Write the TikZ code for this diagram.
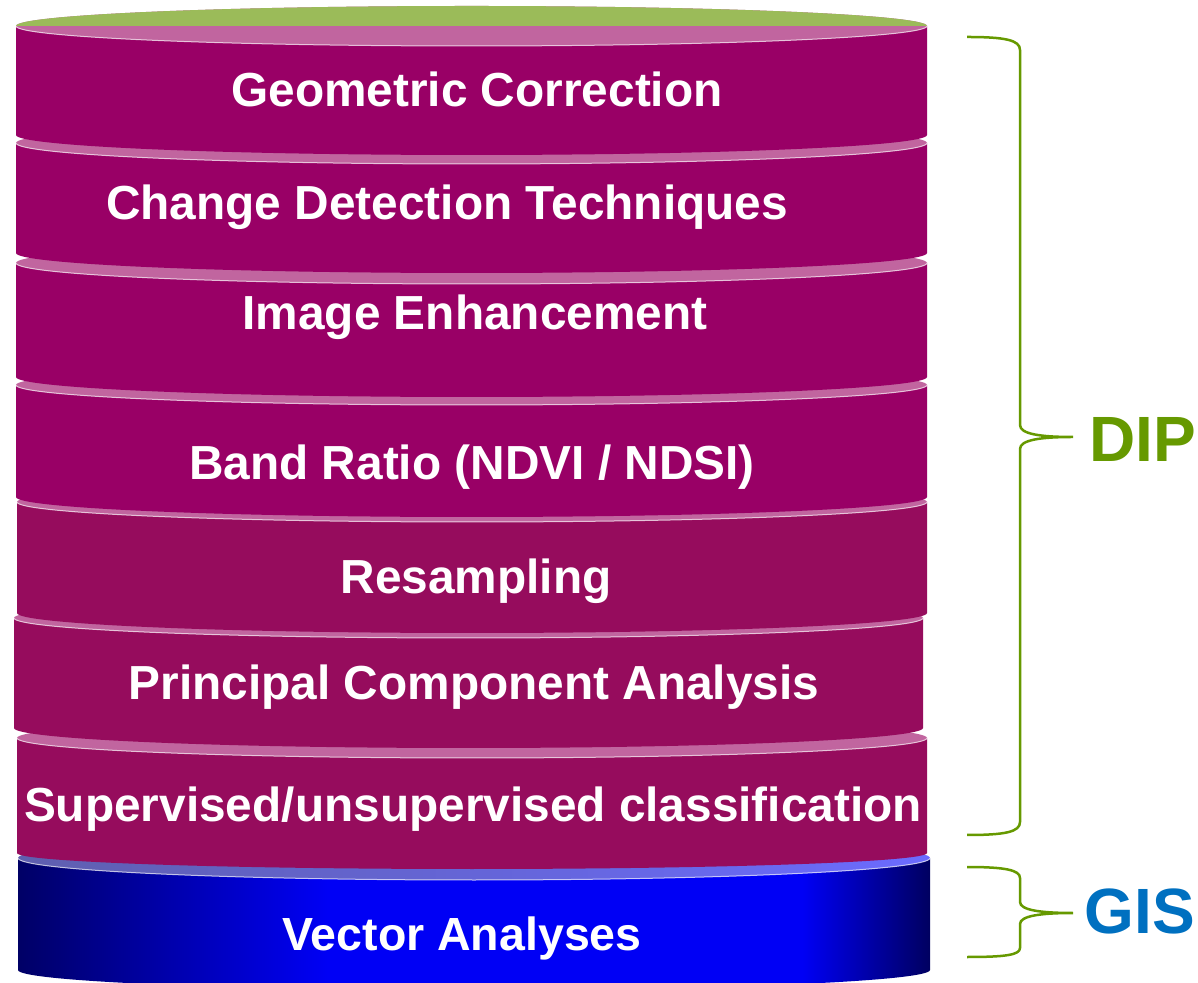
\documentclass[tikz,border=0pt]{standalone}
\usepackage{fontspec}
\setmainfont{Liberation Sans}
\definecolor{plum}{HTML}{990066}
\definecolor{plumlow}{HTML}{960C5D}
\definecolor{plumtop}{HTML}{C1659F}
\definecolor{lidgreen}{HTML}{9BBB59}
\definecolor{bracegreen}{HTML}{669900}
\definecolor{gisblue}{HTML}{0070C0}
\definecolor{navyleft}{HTML}{000066}
\definecolor{navyright}{HTML}{000060}
\definecolor{brightblue}{HTML}{0000F5}
\definecolor{lidblueleft}{HTML}{5F5FAF}
\definecolor{lidblueright}{HTML}{6B6BFF}
\pgfdeclarehorizontalshading{gisbody}{100bp}{color(0bp)=(navyleft); color(25bp)=(navyleft); color(42bp)=(brightblue); color(68bp)=(brightblue); color(75bp)=(navyright); color(100bp)=(navyright)}
\begin{document}
\begin{tikzpicture}[x=1pt, y=1pt,
  lbl/.style={text=white, anchor=base, font=\bfseries\fontsize{47.8}{50}\selectfont},
  tag/.style={anchor=base west, font=\bfseries\fontsize{64}{66}\selectfont},
  rim/.style={draw=white, line width=1pt, opacity=0.7},
  curly/.style={draw=bracegreen, line width=2.5pt}]
\useasboundingbox (0,0) rectangle (1198,982);

% GIS layer
\shade[shading=gisbody]
  (18,124) -- (18,12) arc[start angle=180, end angle=360, x radius=456pt, y radius=20pt] -- (930,124) -- cycle;
\shade[left color=lidblueleft, right color=lidblueright] (474,124) ellipse [x radius=456pt, y radius=22pt];
\draw[rim] (18,124) arc[start angle=180, end angle=360, x radius=456pt, y radius=22pt];

% DIP layers, bottom up
\fill[plumlow] (17,244) -- (17,129) arc[start angle=180, end angle=360, x radius=455pt, y radius=16pt] -- (927,244) -- cycle;
\fill[plumtop] (472,244) ellipse [x radius=455pt, y radius=20pt];
\draw[rim] (17,244) arc[start angle=180, end angle=360, x radius=455pt, y radius=20pt];

\fill[plumlow] (14,364) -- (14,254) arc[start angle=180, end angle=360, x radius=454.5pt, y radius=20pt] -- (923,364) -- cycle;
\fill[plumtop] (468.5,364) ellipse [x radius=454.5pt, y radius=20pt];
\draw[rim] (14,364) arc[start angle=180, end angle=360, x radius=454.5pt, y radius=20pt];

\fill[plumlow] (17,480) -- (17,369) arc[start angle=180, end angle=360, x radius=455pt, y radius=20pt] -- (927,480) -- cycle;
\fill[plumtop] (472,480) ellipse [x radius=455pt, y radius=20pt];
\draw[rim] (17,480) arc[start angle=180, end angle=360, x radius=455pt, y radius=20pt];

\fill[plum] (16,597) -- (16,485) arc[start angle=180, end angle=360, x radius=455.5pt, y radius=20pt] -- (927,597) -- cycle;
\fill[plumtop] (471.5,597) ellipse [x radius=455.5pt, y radius=20pt];
\draw[rim] (16,597) arc[start angle=180, end angle=360, x radius=455.5pt, y radius=20pt];

\fill[plum] (16,719) -- (16,605) arc[start angle=180, end angle=360, x radius=455.5pt, y radius=20pt] -- (927,719) -- cycle;
\fill[plumtop] (471.5,719) ellipse [x radius=455.5pt, y radius=21pt];
\draw[rim] (16,719) arc[start angle=180, end angle=360, x radius=455.5pt, y radius=21pt];

\fill[plum] (16,839) -- (16,729) arc[start angle=180, end angle=360, x radius=455.5pt, y radius=20pt] -- (927,839) -- cycle;
\fill[plumtop] (471.5,839) ellipse [x radius=455.5pt, y radius=21pt];
\draw[rim] (16,839) arc[start angle=180, end angle=360, x radius=455.5pt, y radius=21pt];

\fill[plum] (16,956) -- (16,847) arc[start angle=180, end angle=360, x radius=455.5pt, y radius=20pt] -- (927,956) -- cycle;
\fill[plumtop] (471.5,956) ellipse [x radius=455.5pt, y radius=20pt];
\fill[lidgreen] (16,956) arc[start angle=180, end angle=0, x radius=455.5pt, y radius=20pt] -- cycle;
\draw[rim] (16,956) arc[start angle=180, end angle=360, x radius=455.5pt, y radius=20pt];

% layer labels
\node[lbl] (geo) at (477,875) {Geometric Correction};
\node[lbl] (change) at (447,762) {Change Detection Techniques};
\node[lbl] (enhance) at (475,652) {Image Enhancement};
\node[lbl] (ratio) at (472,502) {Band Ratio (NDVI / NDSI)};
\node[lbl] (resamp) at (476,388) {Resampling};
\node[lbl] (pca) at (474,282) {Principal Component Analysis};
\node[lbl] (classif) at (473,160) {Supervised/unsupervised classification};
\node[lbl, font=\bfseries\fontsize{46.5}{48}\selectfont] (vector) at (462,32) {Vector Analyses};

% braces
\draw[curly] (967,945) .. controls (1005,945) and (1020,942) .. (1020,932) -- (1020,557)
  .. controls (1020,548) and (1040,545) .. (1073,545)
  .. controls (1040,545) and (1020,542) .. (1020,533) -- (1020,160)
  .. controls (1020,150) and (1005,147) .. (967,147);
\draw[curly] (967,115) .. controls (1005,115) and (1020,112) .. (1020,104) -- (1020,80)
  .. controls (1020,72) and (1040,69) .. (1073,69)
  .. controls (1040,69) and (1020,66) .. (1020,58) -- (1020,34)
  .. controls (1020,27) and (1005,25) .. (967,25);

% group names
\node[tag, text=bracegreen] (dip) at (1086,520) {DIP};
\node[tag, text=gisblue] (gis) at (1081,49) {GIS};
\end{tikzpicture}
\end{document}
